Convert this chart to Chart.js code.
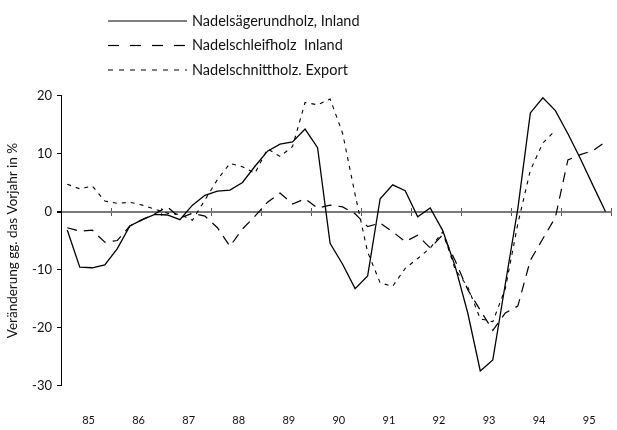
<!DOCTYPE html>
<html>
<head>
<meta charset="utf-8">
<script src="https://cdn.jsdelivr.net/npm/chart.js@4/dist/chart.umd.min.js"></script>
<style>
html,body{margin:0;padding:0;background:#fff;}
canvas{display:block;}
</style>
</head>
<body>
<canvas id="c" width="617" height="430"></canvas>
<script>
// ---- data (quarterly, 1985 Q1 .. 1995 Q4) ----
const yearLabels = ['85','86','87','88','89','90','91','92','93','94','95'];
const quarterNames = ['I','II','III','IV'];
const periods = yearLabels.flatMap(y => quarterNames.map(q => y + '/' + q));
const yTicks = [-30, -20, -10, 0, 10, 20];

const seriesNames = ['Nadelsägerundholz, Inland', 'Nadelschleifholz  Inland', 'Nadelschnittholz. Export'];

const saegerundholz = [-3.2, -9.6, -9.7, -9.2, -6.4, -2.5, -1.4, -0.5, -0.6, -1.4,
  1.1, 2.8, 3.5, 3.7, 5.0, 7.8, 10.4, 11.6, 12.0, 14.2,
  11.0, -5.5, -9.1, -13.3, -11.1, 2.2, 4.6, 3.6, -0.9, 0.6,
  -3.3, -9.5, -17.5, -27.5, -25.6, -12.5, 0.5, 17.0, 19.6, 17.4,
  13.4, 9.1, 4.5, 0.0];

const schleifholz = [-2.8, -3.4, -3.2, -5.3, -5.0, -2.5, -1.4, -0.4, 0.8, -1.1,
  -0.3, -0.8, -2.8, -6.0, -3.0, -0.8, 1.6, 3.2, 1.3, 2.2,
  0.6, 1.1, 0.8, -0.4, -2.6, -2.0, -3.5, -5.2, -4.1, -6.3,
  -4.0, -8.5, -13.5, -17.0, -20.5, -17.5, -16.3, -8.4, -4.7, -1.0,
  8.9, 9.8, 10.5, 12.0];

const schnittholzExport = [4.7, 3.9, 4.4, 1.8, 1.4, 1.6, 1.1, 0.4, -0.3, -0.5,
  -1.5, 2.0, 5.5, 8.3, 7.7, 6.6, 10.8, 9.5, 11.2, 18.8,
  18.4, 19.4, 13.5, 2.9, -7.0, -12.3, -12.9, -9.8, -8.1, -6.3,
  -3.5, -10.0, -13.0, -18.5, -19.0, -13.3, -2.1, 7.1, 11.8, 14.0,
  null, null, null, null];

// ---- helpers ----
const toPoints = vals => periods.map((p, i) => ({x: i + 0.5, y: vals[i]}));
const yearBounds = yearLabels.map((y, i) => i * 4).concat([yearLabels.length * 4]);
const yearMids = yearLabels.map((y, i) => i * 4 + 2.2);
const FONT = 'Lato';

const stackedLegend = {
  id: 'stackedLegend',
  afterDraw(chart) {
    const ctx = chart.ctx;
    chart.data.datasets.forEach((ds, i) => {
      const y = 21 + i * 24.5;
      ctx.save();
      ctx.strokeStyle = ds.borderColor;
      ctx.lineWidth = 1.2;
      ctx.setLineDash(ds.legendDash || []);
      ctx.beginPath();
      ctx.moveTo(108, y);
      ctx.lineTo(187, y);
      ctx.stroke();
      ctx.setLineDash([]);
      ctx.fillStyle = '#111';
      ctx.font = '14.5px ' + FONT;
      ctx.textBaseline = 'middle';
      ctx.fillText(ds.label, 192, y);
      ctx.restore();
    });
  }
};

new Chart(document.getElementById('c'), {
  type: 'line',
  data: {
    datasets: [
      {label: seriesNames[0], data: toPoints(saegerundholz), borderColor: '#000', borderWidth: 1.3, borderDash: [], legendDash: []},
      {label: seriesNames[1], data: toPoints(schleifholz), borderColor: '#000', borderWidth: 1.2, borderDash: [10, 7], legendDash: [11, 11]},
      {label: seriesNames[2], data: toPoints(schnittholzExport), borderColor: '#000', borderWidth: 1.1, borderDash: [4, 5], legendDash: [5, 6]}
    ]
  },
  options: {
    responsive: false,
    animation: false,
    devicePixelRatio: 1,
    layout: {padding: {left: 0, right: 5.3, top: 95.5, bottom: 0}},
    elements: {point: {radius: 0}, line: {tension: 0, fill: false}},
    plugins: {legend: {display: false}, tooltip: {enabled: false}},
    scales: {
      x: {
        type: 'linear', min: 0, max: 44,
        position: {y: 0.6},
        afterBuildTicks: s => { s.ticks = yearBounds.map(v => ({value: v})); },
        ticks: {display: false},
        grid: {drawOnChartArea: false, drawTicks: true, tickLength: 8, tickColor: '#555', lineWidth: 1},
        border: {display: false}
      },
      xl: {
        type: 'linear', axis: 'x', position: 'bottom', min: 0, max: 44,
        afterBuildTicks: s => { s.ticks = yearMids.map(v => ({value: v})); },
        afterFit: s => { s.height = 44.5; },
        grid: {display: true, drawOnChartArea: false, drawTicks: true, tickLength: 25, tickColor: 'rgba(0,0,0,0)', color: 'rgba(0,0,0,0)'},
        border: {display: false},
        ticks: {
          autoSkip: false, maxRotation: 0, padding: 3, color: '#111',
          font: {family: FONT, size: 11},
          callback: (v, i) => yearLabels[i]
        }
      },
      y: {
        position: 'left',
        min: -30, max: 20,
        afterBuildTicks: s => { s.ticks = yTicks.map(v => ({value: v})); },
        afterFit: s => { s.width = 61; },
        border: {display: true, color: '#000', width: 1},
        grid: {
          color: c => (c.tick && c.tick.value === 0) ? '#7a7a7a' : 'rgba(0,0,0,0)',
          lineWidth: c => (c.tick && c.tick.value === 0) ? 2 : 1,
          tickColor: '#000', tickLength: 4, drawTicks: true
        },
        ticks: {color: '#111', padding: 5, font: {family: FONT, size: 13}},
        title: {
          display: true, text: 'Veränderung gg. das Vorjahr in %', color: '#111',
          font: {family: FONT, size: 13.5}, padding: {top: 5, bottom: 0}
        }
      }
    }
  },
  plugins: [stackedLegend]
});
</script>
</body>
</html>
